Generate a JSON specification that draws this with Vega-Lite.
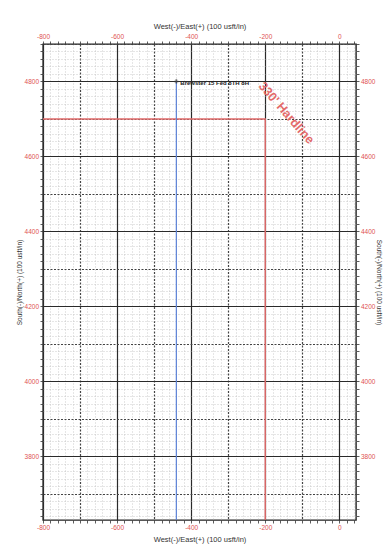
{
  "$schema": "https://vega.github.io/schema/vega-lite/v6.json",
  "width": 313,
  "height": 476,
  "autosize": {"type": "none"},
  "padding": {"left": 43, "top": 44, "right": 27, "bottom": 34},
  "background": "white",
  "config": {
    "view": {"stroke": "#222", "strokeWidth": 1.4},
    "font": "Liberation Sans",
    "axis": {
      "domain": false,
      "tickColor": "#333",
      "tickSize": 3,
      "tickWidth": 0.8,
      "labelColor": "#e05252",
      "labelFontSize": 6.5,
      "labelFont": "Liberation Sans",
      "labelOverlap": false,
      "labelBound": false,
      "labelFlush": false,
      "labelPadding": 1.5,
      "titleFont": "Liberation Sans",
      "titleColor": "#333",
      "titleFontWeight": "normal"
    }
  },
  "layer": [
    {
      "data": {"values": [
        {"x": -800, "y": 4700, "i": 0},
        {"x": -200, "y": 4700, "i": 1},
        {"x": -200, "y": 3630, "i": 2}
      ]},
      "mark": {"type": "line", "color": "#e06a6a", "strokeWidth": 1.4, "clip": true},
      "encoding": {
        "order": {"field": "i", "type": "quantitative"},
        "x": {
          "field": "x", "type": "quantitative",
          "scale": {"domain": [-800, 45], "nice": false, "zero": false},
          "axis": {
            "orient": "bottom",
            "title": "West(-)/East(+) (100 usft/in)",
            "titleFontSize": 7.5,
            "titlePadding": 4,
            "values": [-800,-780,-760,-740,-720,-700,-680,-660,-640,-620,-600,-580,-560,-540,-520,-500,-480,-460,-440,-420,-400,-380,-360,-340,-320,-300,-280,-260,-240,-220,-200,-180,-160,-140,-120,-100,-80,-60,-40,-20,0,20,40],
            "labelExpr": "datum.value % 200 === 0 ? '' + datum.value : ''",
            "grid": true,
            "gridColor": {"condition": [{"test": "datum.value % 200 === 0", "value": "#2a2a2a"}, {"test": "datum.value % 100 === 0", "value": "#444"}], "value": "#b8b8b8"},
            "gridDash": {"condition": [{"test": "datum.value % 200 === 0", "value": []}, {"test": "datum.value % 100 === 0", "value": [2, 1.5]}], "value": [1, 2]},
            "gridWidth": {"condition": [{"test": "datum.value % 200 === 0", "value": 1.2}, {"test": "datum.value % 100 === 0", "value": 1.2}], "value": 0.7}
          }
        },
        "y": {
          "field": "y", "type": "quantitative",
          "scale": {"domain": [3630, 4900], "nice": false, "zero": false},
          "axis": {
            "orient": "left",
            "title": "South(-)/North(+) (100 usft/in)",
            "titleFontSize": 6.5,
            "titlePadding": 2,
            "values": [3640,3660,3680,3700,3720,3740,3760,3780,3800,3820,3840,3860,3880,3900,3920,3940,3960,3980,4000,4020,4040,4060,4080,4100,4120,4140,4160,4180,4200,4220,4240,4260,4280,4300,4320,4340,4360,4380,4400,4420,4440,4460,4480,4500,4520,4540,4560,4580,4600,4620,4640,4660,4680,4700,4720,4740,4760,4780,4800,4820,4840,4860,4880,4900],
            "labelExpr": "datum.value % 200 === 0 ? '' + datum.value : ''",
            "grid": true,
            "gridColor": {"condition": [{"test": "datum.value % 200 === 0", "value": "#2a2a2a"}, {"test": "datum.value % 100 === 0", "value": "#444"}], "value": "#b8b8b8"},
            "gridDash": {"condition": [{"test": "datum.value % 200 === 0", "value": []}, {"test": "datum.value % 100 === 0", "value": [2, 1.5]}], "value": [1, 2]},
            "gridWidth": {"condition": [{"test": "datum.value % 200 === 0", "value": 1.2}, {"test": "datum.value % 100 === 0", "value": 1.2}], "value": 0.7}
          }
        }
      }
    },
    {
      "data": {"values": [{"x": -440, "y": 4800, "y2": 3630}]},
      "mark": {"type": "rule", "color": "#5b82d6", "strokeWidth": 1.2},
      "encoding": {
        "x": {
          "field": "x", "type": "quantitative",
          "axis": {
            "orient": "top",
            "title": "West(-)/East(+) (100 usft/in)",
            "titleFontSize": 7.5,
            "titlePadding": 3,
            "grid": false,
            "values": [-800,-780,-760,-740,-720,-700,-680,-660,-640,-620,-600,-580,-560,-540,-520,-500,-480,-460,-440,-420,-400,-380,-360,-340,-320,-300,-280,-260,-240,-220,-200,-180,-160,-140,-120,-100,-80,-60,-40,-20,0,20,40],
            "labelExpr": "datum.value % 200 === 0 ? '' + datum.value : ''"
          }
        },
        "y": {
          "field": "y", "type": "quantitative",
          "axis": {
            "orient": "right",
            "title": "South(-)/North(+) (100 usft/in)",
            "titleFontSize": 6.5,
            "titlePadding": 1,
            "grid": false,
            "values": [3640,3660,3680,3700,3720,3740,3760,3780,3800,3820,3840,3860,3880,3900,3920,3940,3960,3980,4000,4020,4040,4060,4080,4100,4120,4140,4160,4180,4200,4220,4240,4260,4280,4300,4320,4340,4360,4380,4400,4420,4440,4460,4480,4500,4520,4540,4560,4580,4600,4620,4640,4660,4680,4700,4720,4740,4760,4780,4800,4820,4840,4860,4880,4900],
            "labelExpr": "datum.value % 200 === 0 ? '' + datum.value : ''"
          }
        },
        "y2": {"field": "y2"}
      }
    },
    {
      "data": {"values": [{"x": -440, "y": 4800}]},
      "mark": {"type": "point", "shape": "cross", "size": 18, "filled": true, "color": "#333"},
      "encoding": {
        "x": {"field": "x", "type": "quantitative", "axis": null},
        "y": {"field": "y", "type": "quantitative", "axis": null}
      }
    },
    {
      "data": {"values": [{"x": -440, "y": 4800, "label": "Brewster 15 Fed 8TH 8H"}]},
      "mark": {"type": "text", "align": "left", "baseline": "middle", "dx": 4, "dy": 2, "fontSize": 6, "fontWeight": "bold", "color": "#222"},
      "encoding": {
        "x": {"field": "x", "type": "quantitative", "axis": null},
        "y": {"field": "y", "type": "quantitative", "axis": null},
        "text": {"field": "label"}
      }
    },
    {
      "data": {"values": [{"x": -143, "y": 4716, "label": "330' Hardline"}]},
      "mark": {"type": "text", "align": "center", "baseline": "middle", "angle": 49, "fontSize": 12.5, "fontWeight": "bold", "color": "#e36a6a"},
      "encoding": {
        "x": {"field": "x", "type": "quantitative", "axis": null},
        "y": {"field": "y", "type": "quantitative", "axis": null},
        "text": {"field": "label"}
      }
    }
  ],
  "resolve": {"axis": {"x": "independent", "y": "independent"}}
}
